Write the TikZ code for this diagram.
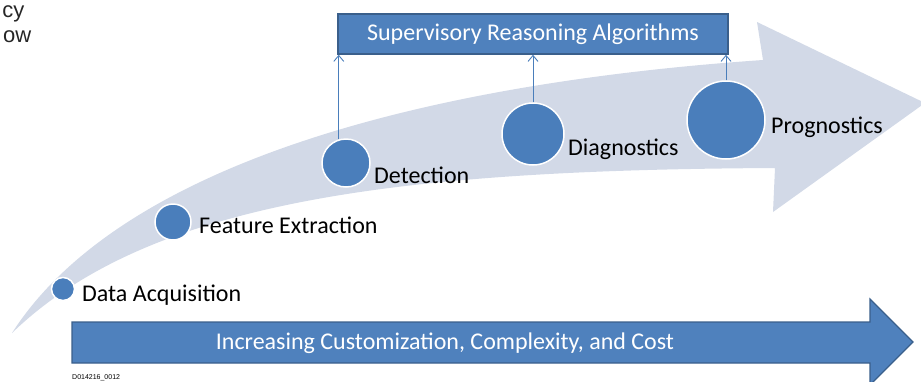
\documentclass[tikz,border=0pt]{standalone}
\usepackage{fontspec}
\setmainfont{Carlito}
\newfontfamily\arialfont{Liberation Sans}
\usepackage{tikz}
\usetikzlibrary{arrows.meta}
\definecolor{BandGray}{HTML}{D2D9E7}
\definecolor{StageBlue}{HTML}{4A7EBB}
\definecolor{BoxBlue}{HTML}{4F81BD}
\definecolor{EdgeBlue}{HTML}{3A5F8B}

\begin{document}
\begin{tikzpicture}[x=1pt,y=-1pt,
		stage/.style={circle,fill=StageBlue,draw=white,line width=1.5pt,inner sep=0pt},
		stagelabel/.style={anchor=base west,inner sep=0pt,font=\fontsize{24}{28}\selectfont},
		uparrow/.style={StageBlue,line width=0.9pt,-{Straight Barb[length=6pt,width=10pt]}}]
		\useasboundingbox (0,0) rectangle (921,381);
		% cut off text at the left
		\node[anchor=base east,inner sep=0pt,text=black!85,font=\arialfont\fontsize{22}{26}\selectfont] (cy) at (24.5,17) {cy};
		\node[anchor=base east,inner sep=0pt,text=black!85,font=\arialfont\fontsize{22}{26}\selectfont] (ow) at (31.5,42) {ow};
		% curved band
		\fill [color=BandGray] (12,333) .. controls (115,172) and (400,85) .. (763,60) -- (757,22) -- (925,103) -- (773,212) -- (775,168) .. controls (400,170) and (150,200) .. (12,333) -- cycle;
		% stages along the band
		\node[stage,minimum size=23pt] (acq) at (63,289) {};
		\node[stage,minimum size=36pt] (feat) at (173,222) {};
		\node[stage,minimum size=48pt] (det) at (346,163) {};
		\node[stage,minimum size=62pt] (diag) at (533,134) {};
		\node[stage,minimum size=78pt] (prog) at (726,120) {};
		\node[stagelabel] (acqlabel) at (82,301) {Data Acquisition};
		\node[stagelabel] (featlabel) at (199,233) {Feature Extraction};
		\node[stagelabel] (detlabel) at (374,183) {Detection};
		\node[stagelabel] (diaglabel) at (568,155) {Diagnostics};
		\node[stagelabel] (proglabel) at (771,133) {Prognostics};
		% top box
		\node[fill=BoxBlue,draw=EdgeBlue,line width=1.5pt,minimum width=390pt,minimum height=40pt,text=white,font=\fontsize{24}{28}\selectfont] (sra) at (533,34) {Supervisory Reasoning Algorithms};
		\draw [uparrow] (det.107) -- (det.107 |- sra.south);
		\draw [uparrow] (diag.north) -- (diag.north |- sra.south);
		\draw [uparrow] (prog.north) -- (prog.north |- sra.south);
		% bottom arrow
		\filldraw [fill=BoxBlue,draw=EdgeBlue,line width=1.2pt] (72,322) -- (870,322) -- (870,299) -- (913,342) -- (870,385) -- (870,363) -- (72,363) -- cycle;
		\node[text=white,font=\fontsize{24}{28}\selectfont] (cost) at (445,343) {Increasing Customization, Complexity, and Cost};
		\node[anchor=base west,inner sep=0pt,font=\arialfont\fontsize{7}{8}\selectfont] (code) at (72,379.5) {D014216\_0012};
	\end{tikzpicture}
\end{document}
